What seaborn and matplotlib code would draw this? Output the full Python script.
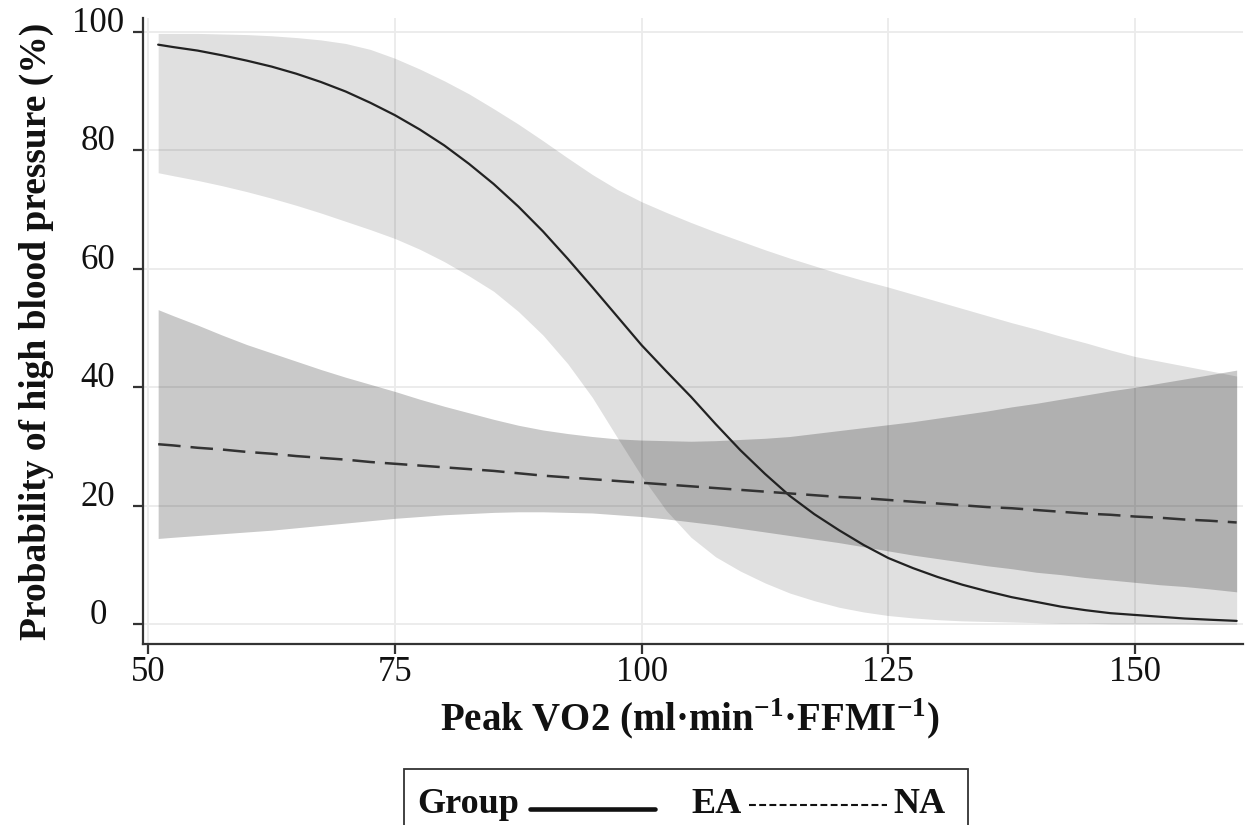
import numpy as np
import pandas as pd
import matplotlib.pyplot as plt
import seaborn as sns
from matplotlib.lines import Line2D
from matplotlib.patches import Rectangle

# values
peak_vo2 = [51, 52.5, 55, 57.5, 60, 62.5, 65, 67.5, 70,
            72.5, 75, 77.5, 80, 82.5, 85, 87.5, 90, 92.5,
            95, 97.5, 100, 102.5, 105, 107.5, 110, 112.5, 115,
            117.5, 120, 122.5, 125, 127.5, 130, 132.5, 135, 137.5,
            140, 142.5, 145, 147.5, 150, 152.5, 155, 157.5, 160.3]

ea_prob = [97.8, 97.4, 96.8, 96.0, 95.1, 94.1, 92.9, 91.5, 89.9,
           88.0, 85.9, 83.5, 80.8, 77.7, 74.3, 70.5, 66.3, 61.7,
           56.9, 52.0, 47.1, 42.7, 38.4, 33.8, 29.4, 25.4, 21.7,
           18.6, 15.9, 13.4, 11.2, 9.5, 8.0, 6.7, 5.6, 4.6,
           3.8, 3.0, 2.4, 1.9, 1.6, 1.3, 1.0, 0.8, 0.6]
ea_low = [76.2, 75.7, 74.9, 74.0, 73.0, 71.9, 70.7, 69.4, 68.0,
          66.6, 65.1, 63.3, 61.2, 58.8, 56.2, 52.8, 48.8, 44.0,
          38.3, 31.6, 25.0, 19.2, 14.7, 11.4, 9.0, 7.0, 5.3,
          4.0, 2.9, 2.1, 1.5, 1.1, 0.8, 0.6, 0.5, 0.4,
          0.3, 0.2, 0.2, 0.1, 0.1, 0.1, 0.1, 0.0, 0.0]
ea_high = [99.7, 99.7, 99.7, 99.6, 99.5, 99.3, 99.0, 98.6, 98.0,
           97.0, 95.5, 93.7, 91.7, 89.5, 87.0, 84.4, 81.6, 78.7,
           75.9, 73.4, 71.3, 69.5, 67.8, 66.2, 64.7, 63.2, 61.8,
           60.5, 59.2, 58.0, 56.9, 55.7, 54.5, 53.3, 52.1, 50.9,
           49.8, 48.6, 47.5, 46.3, 45.2, 44.4, 43.6, 42.8, 41.9]

na_prob = [30.4, 30.2, 29.8, 29.5, 29.1, 28.8, 28.4, 28.1, 27.8,
           27.4, 27.1, 26.8, 26.5, 26.2, 25.9, 25.5, 25.1, 24.8,
           24.5, 24.2, 23.9, 23.6, 23.3, 23.0, 22.7, 22.4, 22.1,
           21.8, 21.5, 21.3, 21.0, 20.7, 20.4, 20.1, 19.8, 19.6,
           19.3, 19.0, 18.7, 18.5, 18.2, 18.0, 17.7, 17.5, 17.2]
na_low = [14.5, 14.7, 15.0, 15.3, 15.6, 15.9, 16.3, 16.7, 17.1,
          17.5, 17.9, 18.2, 18.5, 18.7, 18.9, 19.0, 19.0, 18.9,
          18.8, 18.5, 18.2, 17.8, 17.3, 16.8, 16.2, 15.6, 15.0,
          14.4, 13.8, 13.1, 12.4, 11.7, 11.1, 10.5, 9.9, 9.4,
          8.8, 8.4, 7.9, 7.5, 7.1, 6.7, 6.4, 6.0, 5.5]
na_high = [53.1, 52.1, 50.5, 48.8, 47.2, 45.8, 44.4, 43.0, 41.7,
           40.5, 39.3, 38.0, 36.8, 35.7, 34.6, 33.6, 32.8, 32.2,
           31.7, 31.3, 31.1, 31.0, 30.9, 31.0, 31.2, 31.4, 31.7,
           32.2, 32.7, 33.2, 33.7, 34.2, 34.8, 35.4, 36.0, 36.7,
           37.3, 38.0, 38.7, 39.4, 40.0, 40.7, 41.4, 42.1, 42.9]

x_ticks = [50, 75, 100, 125, 150]
y_ticks = [0, 20, 40, 60, 80, 100]

sns.set_theme(style='whitegrid')
plt.rcParams['font.family'] = ['Liberation Serif', 'DejaVu Serif']
plt.rcParams['mathtext.fontset'] = 'custom'
plt.rcParams['mathtext.rm'] = 'Liberation Serif'
plt.rcParams['mathtext.bf'] = 'Liberation Serif:bold'

df = pd.DataFrame({'Peak VO2': peak_vo2 * 2,
                   'Probability': ea_prob + na_prob,
                   'Group': ['EA'] * len(peak_vo2) + ['NA'] * len(peak_vo2)})

fig = plt.figure(figsize=(12.54, 8.25), dpi=100)
ax = fig.add_axes([0.114, 0.2194, 0.8772, 0.7588])

# confidence bands
ax.fill_between(peak_vo2, ea_low, ea_high, color='black', alpha=0.12, lw=0)
ax.fill_between(peak_vo2, na_low, na_high, color='black', alpha=0.21, lw=0)

sns.lineplot(data=df[df['Group'] == 'EA'], x='Peak VO2', y='Probability',
             color='#222222', lw=1.6, ax=ax, legend=False)
sns.lineplot(data=df[df['Group'] == 'NA'], x='Peak VO2', y='Probability',
             color='#333333', lw=1.8, dashes=(9, 4), ax=ax, legend=False)

ax.set_xlim(49.46, 160.94)
ax.set_ylim(-3.3, 102.3)
ax.set_xticks(x_ticks)
ax.set_yticks(y_ticks)
ax.grid(True, color='#ebebeb', lw=1.3)
ax.set_facecolor('white')

for s in ['top', 'right']:
    ax.spines[s].set_visible(False)
for s in ['left', 'bottom']:
    ax.spines[s].set_color('#333333')
    ax.spines[s].set_linewidth(1.6)

ax.tick_params(axis='both', bottom=True, left=True, length=7.5, width=1.6,
               color='#333333', labelcolor='#111111', labelsize=25)
ax.tick_params(axis='x', pad=1)
ax.tick_params(axis='y', pad=25)
plt.setp(ax.get_yticklabels(), ha='center', va='baseline')

ax.set_xlabel(r'Peak VO2 (ml·min$^{\mathbf{-1}}$·FFMI$^{\mathbf{-1}}$)',
              fontsize=28, fontweight='bold', color='#111111')
ax.xaxis.set_label_coords(0.497, -0.121)
ax.xaxis.label.set_va('center')
ax.set_ylabel('Probability of high blood pressure (%)',
              fontsize=27, fontweight='bold', color='#111111')
ax.yaxis.set_label_coords(-0.0964, 0.5)
ax.yaxis.label.set_va('center')

# legend box at the bottom (clipped by the figure edge as in the reference)
W, H = 1254.0, 825.0
box = Rectangle((404 / W, -0.05), (968 - 404) / W, 0.05 + (825 - 769) / H,
                transform=fig.transFigure, fill=False, edgecolor='#333333',
                lw=1.3, clip_on=False)
fig.add_artist(box)
yb = 1 - 813 / H
fig.text(417 / W, yb, 'Group', fontsize=26, fontweight='bold', va='baseline', color='#111111')
fig.add_artist(Line2D([530 / W, 655 / W], [1 - 809 / H, 1 - 809 / H], transform=fig.transFigure,
                      color='#111111', lw=3.3))
fig.text(691 / W, yb, 'EA', fontsize=26, fontweight='bold', va='baseline', color='#111111')
fig.add_artist(Line2D([749 / W, 887 / W], [1 - 805 / H, 1 - 805 / H], transform=fig.transFigure,
                      color='#111111', lw=1.5, dashes=(3.3, 1.6)))
fig.text(893 / W, yb, 'NA', fontsize=26, fontweight='bold', va='baseline', color='#111111')

fig.savefig('out.png', dpi=100)
